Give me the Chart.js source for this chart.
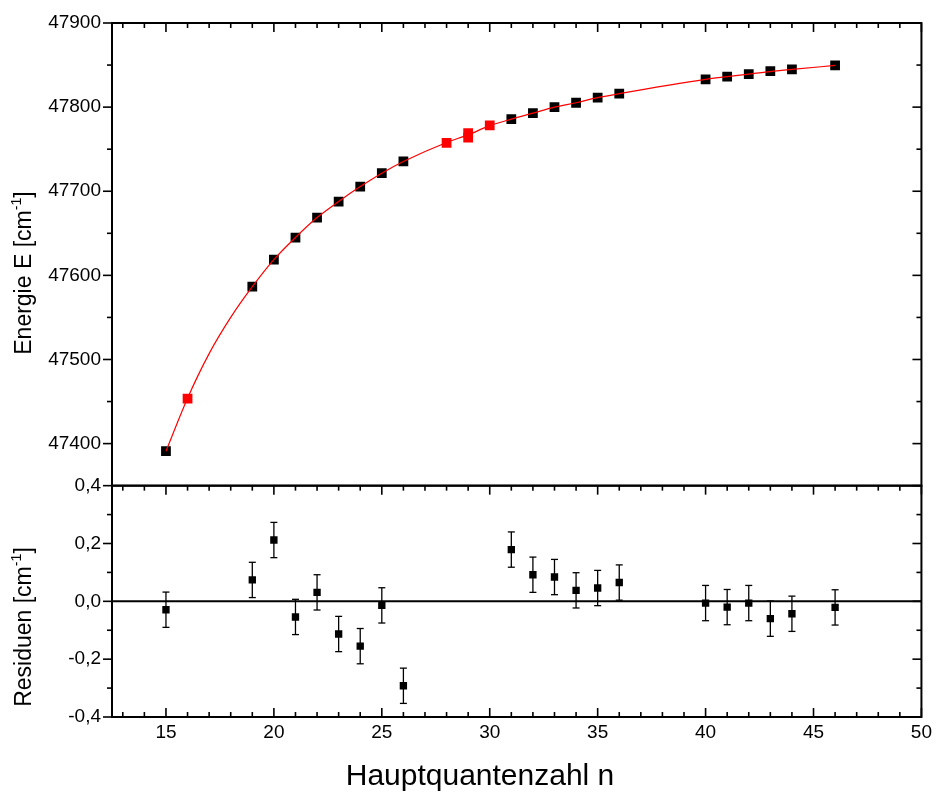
<!DOCTYPE html>
<html>
<head>
<meta charset="utf-8">
<script src="https://cdn.jsdelivr.net/npm/chart.js@4.4.1/dist/chart.umd.min.js"></script>
<style>
  html, body { margin: 0; padding: 0; background: #fff; }
  #wrap { width: 936px; height: 795px; }
</style>
</head>
<body>
<div id="wrap"><canvas id="rydberg" width="936" height="795"></canvas></div>
<script>
// ------------------------- DATA -------------------------
// Rydberg levels used in the fit (black)
const nBlack = [15, 19, 20, 21, 22, 23, 24, 25, 26, 31, 32, 33, 34, 35, 36, 40, 41, 42, 43, 44, 46];
const eBlack = [47391, 47586.5, 47618.7, 47644.9, 47668.7, 47687.7, 47705.6, 47721.5, 47735.4,
                47785.7, 47792.9, 47800, 47805.2, 47811.2, 47816.1,
                47833, 47836.2, 47839.3, 47842.7, 47844.9, 47849.6];

// extra lines, not in the fit (red)
const nRed = [16, 28, 29, 29, 30];
const eRed = [47453.6, 47757.6, 47769, 47763.6, 47778.2];

// fit curve
const fitN = [15, 16, 17, 18, 19, 20, 21, 22, 23, 24, 25, 26, 28, 29, 30, 31, 32, 33, 34, 35, 36, 40, 41, 42, 43, 44, 46];
const fitE = [47391, 47454, 47507, 47550, 47586.5, 47618.7, 47645, 47668.7, 47687.8, 47705.5, 47721.5, 47735.3,
              47758, 47767, 47778, 47785.7, 47792.8, 47799.9, 47805.2, 47811.2, 47816,
              47833, 47836.2, 47839.3, 47842.3, 47844.8, 47849.6];

// residuals [cm^-1] with error bars
const resN   = [15, 19, 20, 21, 22, 23, 24, 25, 26, 31, 32, 33, 34, 35, 36, 40, 41, 42, 43, 44, 46];
const resV   = [-0.029, 0.074, 0.212, -0.054, 0.031, -0.113, -0.155, -0.014, -0.292,
                0.179, 0.092, 0.084, 0.038, 0.046, 0.065,
                -0.006, -0.020, -0.006, -0.060, -0.043, -0.021];
const resErr = [0.061, 0.061, 0.061, 0.061, 0.061, 0.061, 0.061, 0.061, 0.061,
                0.061, 0.061, 0.061, 0.061, 0.061, 0.061,
                0.061, 0.061, 0.061, 0.061, 0.061, 0.061];

// axis tick labels
const xTicks = [15, 20, 25, 30, 35, 40, 45, 50];
const eTicks = [47400, 47500, 47600, 47700, 47800, 47900];
const rTicks = [-0.4, -0.2, 0, 0.2, 0.4];

const FONT = '"Liberation Sans", Arial, sans-serif';
const xy = (xs, ys) => xs.map((x, i) => ({ x, y: ys[i] }));
const asTicks = vals => vals.map(value => ({ value }));

// ------------------------- ORIGIN-STYLE FRAME / TICKS -------------------------
function line(ctx, x1, y1, x2, y2) {
  ctx.beginPath();
  ctx.moveTo(x1, y1);
  ctx.lineTo(x2, y2);
  ctx.stroke();
}

// title with a superscript part, rotated (reads bottom -> top)
function drawYTitle(ctx, main, sup, tail, cx, cy, size) {
  const supSize = size * 0.62;
  ctx.save();
  ctx.translate(cx, cy);
  ctx.rotate(-Math.PI / 2);
  ctx.fillStyle = '#000';
  ctx.textBaseline = 'alphabetic';
  ctx.textAlign = 'left';
  ctx.font = size + 'px ' + FONT;
  const w1 = ctx.measureText(main).width;
  const w3 = ctx.measureText(tail).width;
  ctx.font = supSize + 'px ' + FONT;
  const w2 = ctx.measureText(sup).width;
  let x = -(w1 + w2 + w3) / 2;
  ctx.font = size + 'px ' + FONT;
  ctx.fillText(main, x, 0);
  x += w1;
  ctx.font = supSize + 'px ' + FONT;
  ctx.fillText(sup, x, -size * 0.42);
  x += w2;
  ctx.font = size + 'px ' + FONT;
  ctx.fillText(tail, x, 0);
  ctx.restore();
}

const originFrame = {
  id: 'originFrame',
  beforeDatasetsDraw(chart) {
    const ctx = chart.ctx;
    const xs = chart.scales.x, yR = chart.scales.yR;
    ctx.save();
    // zero line in residual panel
    ctx.strokeStyle = '#000';
    ctx.lineWidth = 2;
    const y0 = yR.getPixelForValue(0);
    line(ctx, xs.left, y0, xs.right, y0);
    // error bars
    ctx.lineWidth = 1.3;
    resN.forEach((n, i) => {
      const px = xs.getPixelForValue(n);
      const top = yR.getPixelForValue(resV[i] + resErr[i]);
      const bot = yR.getPixelForValue(resV[i] - resErr[i]);
      line(ctx, px, top, px, bot);
      line(ctx, px - 3.5, top, px + 3.5, top);
      line(ctx, px - 3.5, bot, px + 3.5, bot);
    });
    ctx.restore();
  },
  afterDraw(chart) {
    const ctx = chart.ctx;
    const xs = chart.scales.x, yE = chart.scales.yE, yR = chart.scales.yR;
    const L = xs.left, R = xs.right;
    const MAJ = 9, MIN = 5;
    ctx.save();
    ctx.strokeStyle = '#000';
    ctx.lineCap = 'butt';

    // ticks on x (every 1, major every 5)
    ctx.lineWidth = 1.6;
    for (let n = 13; n <= 50; n++) {
      const px = xs.getPixelForValue(n);
      const len = n % 5 === 0 ? MAJ : MIN;
      line(ctx, px, yE.top, px, yE.top + len);       // top of upper panel, inward
      line(ctx, px, yR.top, px, yR.top + len);       // top of lower panel, inward
      line(ctx, px, yR.bottom, px, yR.bottom - len); // bottom, inward
    }
    // energy axis: every 50, major every 100
    for (let v = 47400; v <= 47900; v += 50) {
      const py = yE.getPixelForValue(v);
      const len = v % 100 === 0 ? MAJ : MIN;
      line(ctx, L, py, L - len, py);
      line(ctx, R, py, R - len, py);
    }
    // residual axis: every 0.1, major every 0.2
    for (let k = -4; k <= 4; k++) {
      const py = yR.getPixelForValue(k / 10);
      const len = k % 2 === 0 ? MAJ : MIN;
      line(ctx, L, py, L - len, py);
      line(ctx, R, py, R - len, py);
    }

    // frames
    ctx.lineWidth = 2;
    ctx.strokeRect(L, yE.top, R - L, yE.bottom - yE.top);
    ctx.strokeRect(L, yR.top, R - L, yR.bottom - yR.top);

    // titles
    drawYTitle(ctx, 'Energie E [cm', '-1', ']', 31, 273, 23);
    drawYTitle(ctx, 'Residuen [cm', '-1', ']', 31, 627, 23);
    ctx.fillStyle = '#000';
    ctx.font = '30px ' + FONT;
    ctx.textAlign = 'center';
    ctx.textBaseline = 'alphabetic';
    ctx.fillText('Hauptquantenzahl n', 480, 785);
    ctx.restore();
  }
};

// ------------------------- CHART -------------------------
const tickFont = { family: FONT, size: 19 };

new Chart(document.getElementById('rydberg').getContext('2d'), {
  type: 'scatter',
  data: {
    datasets: [
      {
        label: 'Fit',
        data: xy(fitN, fitE),
        yAxisID: 'yE',
        showLine: true,
        borderColor: '#ff0000',
        borderWidth: 1.2,
        pointRadius: 0,
        cubicInterpolationMode: 'monotone',
        order: 0
      },
      {
        label: 'Niveaus (Fit)',
        data: xy(nBlack, eBlack),
        yAxisID: 'yE',
        pointStyle: 'rect',
        pointRadius: 6.9,
        backgroundColor: '#000',
        borderWidth: 0,
        order: 1
      },
      {
        label: 'Niveaus',
        data: xy(nRed, eRed),
        yAxisID: 'yE',
        pointStyle: 'rect',
        pointRadius: 6.9,
        backgroundColor: '#ff0000',
        borderWidth: 0,
        order: 1
      },
      {
        label: 'Residuen',
        data: xy(resN, resV),
        yAxisID: 'yR',
        pointStyle: 'rect',
        pointRadius: 5.2,
        backgroundColor: '#000',
        borderWidth: 0,
        order: 1
      }
    ]
  },
  options: {
    responsive: false,
    devicePixelRatio: 1,
    animation: false,
    layout: { padding: { top: 23, right: 12, left: 0, bottom: 0 } },
    plugins: { legend: { display: false }, tooltip: { enabled: false } },
    scales: {
      x: {
        type: 'linear',
        position: 'bottom',
        min: 12.5,
        max: 50,
        border: { display: false },
        grid: { display: false, drawTicks: false },
        afterBuildTicks: s => { s.ticks = asTicks(xTicks); },
        ticks: {
          autoSkip: false,
          maxRotation: 0,
          padding: 4,
          color: '#000',
          font: tickFont,
          callback: v => String(v)
        },
        afterFit: s => { s.height = 78; }
      },
      yE: {
        type: 'linear',
        position: 'left',
        stack: 'panels',
        stackWeight: 2,
        weight: 1,
        min: 47350,
        max: 47900,
        border: { display: false },
        grid: { display: false, drawTicks: false },
        afterBuildTicks: s => { s.ticks = asTicks(eTicks); },
        ticks: {
          autoSkip: false,
          padding: 11,
          color: '#000',
          font: tickFont,
          callback: v => String(v)
        },
        afterFit: s => { s.width = 112; }
      },
      yR: {
        type: 'linear',
        position: 'left',
        stack: 'panels',
        stackWeight: 1,
        weight: 0,
        min: -0.4,
        max: 0.4,
        border: { display: false },
        grid: { display: false, drawTicks: false },
        afterBuildTicks: s => { s.ticks = asTicks(rTicks); },
        ticks: {
          autoSkip: false,
          padding: 11,
          color: '#000',
          font: tickFont,
          callback: v => (Math.abs(v) < 1e-9 ? '0,0' : v.toFixed(1).replace('.', ','))
        },
        afterFit: s => { s.width = 112; }
      }
    }
  },
  plugins: [originFrame]
});
</script>
</body>
</html>
